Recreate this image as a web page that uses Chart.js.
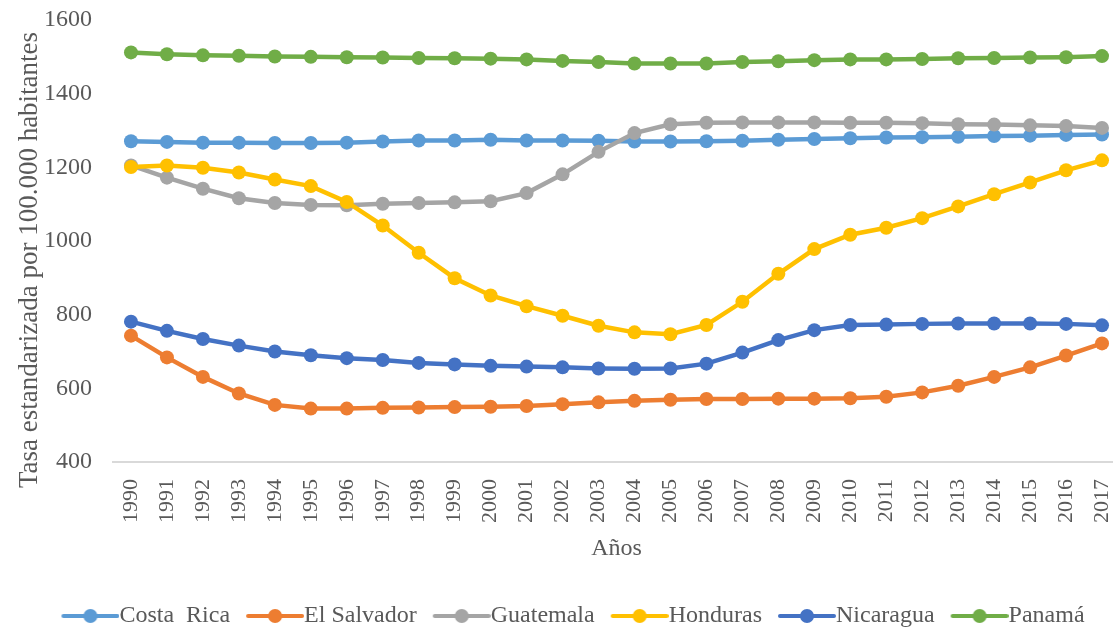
<!DOCTYPE html>
<html>
<head>
<meta charset="utf-8">
<script src="https://cdn.jsdelivr.net/npm/chart.js@4"></script>
<style>
  html, body { margin: 0; padding: 0; background: #fff; overflow: hidden; }
  #chart { display: block; }
</style>
</head>
<body>
<canvas id="chart" width="1129" height="628"></canvas>
<script>
// Data
const years = ["1990", "1991", "1992", "1993", "1994", "1995", "1996", "1997", "1998", "1999",
  "2000", "2001", "2002", "2003", "2004", "2005", "2006", "2007", "2008", "2009",
  "2010", "2011", "2012", "2013", "2014", "2015", "2016", "2017"];

const costaRica = [1271, 1269, 1267, 1267, 1266, 1266, 1267, 1270, 1273, 1273, 1275, 1273, 1273, 1272,
  1270, 1270, 1271, 1272, 1275, 1277, 1279, 1281, 1282, 1283, 1285, 1286, 1288, 1289];
const elSalvador = [743, 684, 631, 586, 555, 545, 545, 547, 548, 549, 550, 552, 557, 562,
  566, 569, 571, 571, 572, 572, 573, 577, 589, 607, 631, 657, 689, 722];
const guatemala = [1205, 1172, 1142, 1116, 1103, 1098, 1097, 1101, 1103, 1105, 1108, 1130, 1181, 1242,
  1293, 1317, 1321, 1322, 1322, 1322, 1321, 1321, 1320, 1317, 1316, 1314, 1312, 1307];
const honduras = [1201, 1205, 1199, 1186, 1167, 1149, 1106, 1042, 968, 899, 852, 823, 797, 770,
  752, 747, 772, 835, 911, 978, 1017, 1036, 1062, 1094, 1127, 1159, 1192, 1219];
const nicaragua = [781, 756, 734, 716, 700, 690, 682, 677, 669, 665, 661, 659, 657, 654,
  653, 654, 667, 697, 731, 758, 772, 773, 775, 776, 776, 776, 775, 771];
const panama = [1512, 1507, 1504, 1503, 1501, 1500, 1499, 1498, 1497, 1496, 1495, 1493, 1489, 1486,
  1482, 1482, 1482, 1486, 1488, 1491, 1493, 1493, 1494, 1496, 1497, 1498, 1499, 1502];

const seriesNames = ["Costa  Rica", "El Salvador", "Guatemala", "Honduras", "Nicaragua", "Panamá"];
const seriesData = [costaRica, elSalvador, guatemala, honduras, nicaragua, panama];
const seriesColors = ["#5B9BD5", "#ED7D31", "#A5A5A5", "#FFC000", "#4472C4", "#70AD47"];
const yTitle = "Tasa estandarizada por 100.000 habitantes";

const FONT = "'Liberation Serif', 'Times New Roman', serif";
const TEXT = "#595959";

// legend marker: line with a dot, transparent space on the left as gap
function makeMarker(color) {
  const c = document.createElement("canvas");
  c.width = 82;
  c.height = 16;
  const g = c.getContext("2d");
  g.strokeStyle = color;
  g.lineWidth = 4;
  g.lineCap = "round";
  g.beginPath();
  g.moveTo(26, 8);
  g.lineTo(80, 8);
  g.stroke();
  g.fillStyle = color;
  g.beginPath();
  g.arc(53, 8, 7, 0, Math.PI * 2);
  g.fill();
  return c;
}

// y axis title, drawn a bit lower than the axis centre as in the original
const yTitlePlugin = {
  id: "yTitle",
  afterDraw(chart) {
    const ctx = chart.ctx;
    ctx.save();
    ctx.translate(30, 260);
    ctx.rotate(-Math.PI / 2);
    ctx.font = "27px " + FONT;
    ctx.fillStyle = TEXT;
    ctx.textAlign = "center";
    ctx.textBaseline = "middle";
    ctx.fillText(yTitle, 0, 0);
    ctx.restore();
  }
};

const datasets = seriesNames.map((name, i) => ({
  label: name,
  data: seriesData[i],
  borderColor: seriesColors[i],
  backgroundColor: seriesColors[i],
  pointBackgroundColor: seriesColors[i],
  pointBorderColor: seriesColors[i],
  pointRadius: 7,
  pointBorderWidth: 0,
  borderWidth: 4.5,
  tension: 0,
  fill: false,
  order: seriesNames.length - i // later series on top, like the original
}));

new Chart(document.getElementById("chart"), {
  type: "line",
  data: { labels: years, datasets: datasets },
  plugins: [yTitlePlugin],
  options: {
    responsive: false,
    animation: false,
    layout: { padding: { left: 14, right: 9, top: 20, bottom: -10 } },
    plugins: {
      tooltip: { enabled: false },
      legend: {
        position: "bottom",
        labels: {
          usePointStyle: true,
          pointStyleWidth: 58,
          padding: 4,
          color: TEXT,
          font: { family: FONT, size: 24 },
          generateLabels: (chart) => chart.data.datasets.map((ds, i) => ({
            text: ds.label,
            fillStyle: ds.borderColor,
            strokeStyle: ds.borderColor,
            fontColor: TEXT,
            lineWidth: 0,
            pointStyle: makeMarker(ds.borderColor),
            hidden: false,
            datasetIndex: i
          }))
        }
      }
    },
    scales: {
      x: {
        offset: true,
        grid: { display: false, drawTicks: true, tickLength: 17, tickColor: "rgba(0,0,0,0)" },
        border: { display: true, color: "#D9D9D9", width: 2 },
        ticks: {
          minRotation: 90,
          maxRotation: 90,
          autoSkip: false,
          padding: 0,
          color: TEXT,
          font: { family: FONT, size: 22 }
        },
        title: {
          display: true,
          text: "Años",
          color: TEXT,
          font: { family: FONT, size: 24 },
          padding: { top: 0, bottom: 37 }
        },
        afterFit: (scale) => { scale.height = 138; }
      },
      y: {
        min: 400,
        max: 1600,
        grid: { display: false, drawTicks: true, tickLength: 21, tickColor: "rgba(0,0,0,0)" },
        border: { display: false },
        ticks: {
          stepSize: 200,
          padding: 0,
          color: TEXT,
          font: { family: FONT, size: 24 },
          callback: (value) => String(value)
        },
        afterFit: (scale) => { scale.width = 99; }
      }
    }
  }
});
</script>
</body>
</html>
